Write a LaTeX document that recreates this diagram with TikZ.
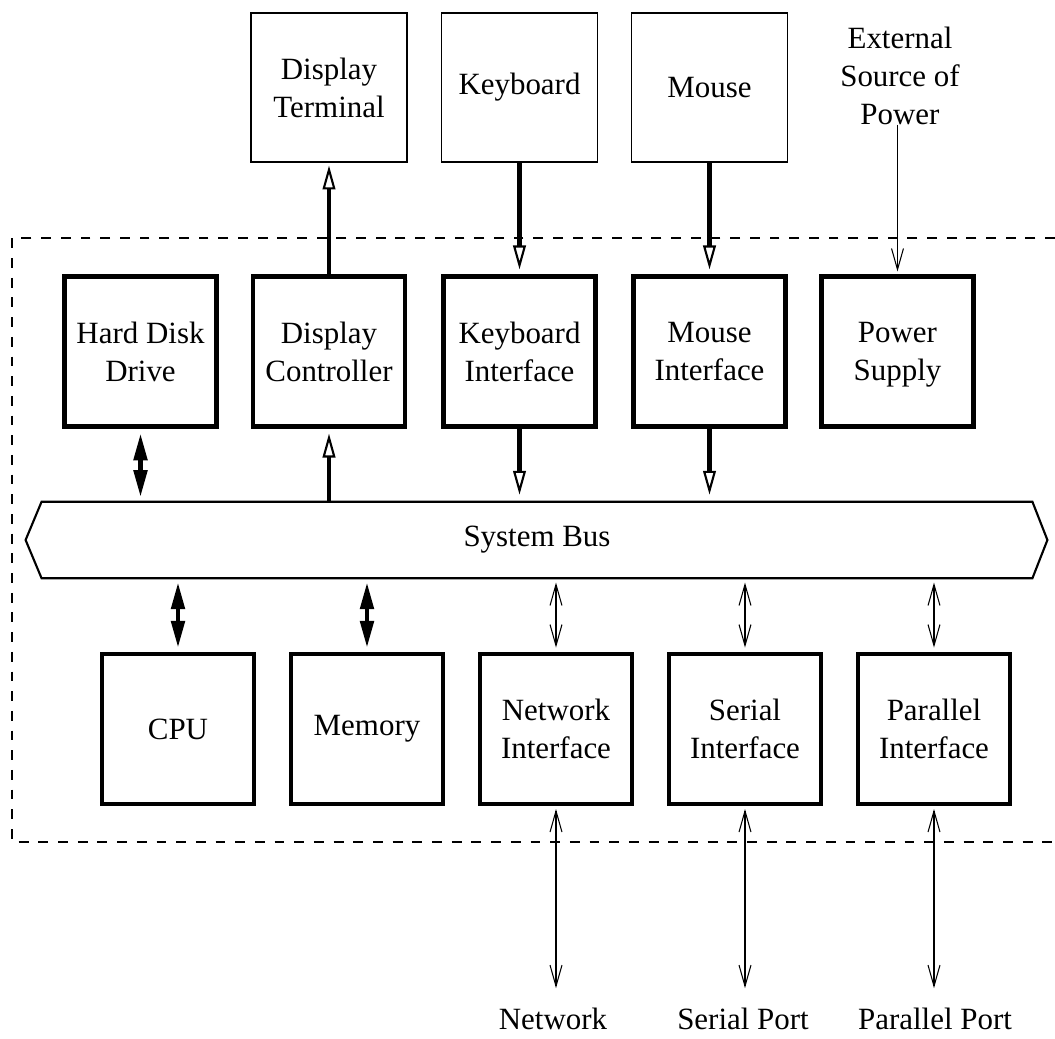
\documentclass[tikz,border=0pt]{standalone}
\usepackage{fontspec}
\setmainfont{Liberation Serif}
\usepackage{tikz}
\usetikzlibrary{arrows.meta,calc}
\tikzstyle{board}=[rectangle,draw,line width=3.1pt,minimum width=3.8cm,minimum height=3.75cm,align=center,inner sep=0pt]
\tikzstyle{device}=[rectangle,draw,line width=1.2pt,minimum width=3.9cm,minimum height=3.72cm,align=center,inner sep=0pt]
\tikzstyle{port}=[inner sep=0pt,align=center]
\tikzstyle{bigbus}=[line width=1.5pt,line join=miter]
\tikzstyle{frame}=[line width=1.4pt,dash pattern=on 7pt off 7pt]
\tikzstyle{wide} = [draw,line width=3pt,{Triangle[length=19pt,width=9.5pt]}-{Triangle[length=19pt,width=9.5pt]}]
\tikzstyle{oneway} = [draw,line width=3pt,-{Triangle[open,length=17pt,width=9pt,line width=1.5pt]}]
\tikzstyle{narrow} = [draw,line width=0.75pt,{Straight Barb[length=15pt,width=8.5pt]}-{Straight Barb[length=15pt,width=8.5pt]}]
\tikzstyle{feed} = [draw,line width=0.75pt,-{Straight Barb[length=15pt,width=8.5pt]}]
\begin{document}
\begin{tikzpicture}[x=0.025cm,y=-0.025cm,font=\fontsize{22}{27}\selectfont]
    \useasboundingbox (0,0) rectangle (1055,1039);
    % dashed outline of the system unit
    \draw[frame] (1055,238) -- (12,238) -- (12,842) -- (1055,842);
    % First the devices outside, then the cards
    \foreach \pos/\name/\txt in {{(329,87.5)/term/{Display\\Terminal}},
                                {(519.5,87.5)/kbd/Keyboard}, {(709.5,87.5)/mouse/Mouse}}
        \node[device] (\name) at \pos {\txt};
    \foreach \pos/\name/\txt in {{(140.5,351.5)/hdd/{Hard Disk\\Drive}}, {(329,351.5)/dispctl/{Display\\Controller}},
                                {(519.5,351.5)/kbdif/{Keyboard\\Interface}}, {(709.5,351.5)/mouseif/{Mouse\\Interface}},
                                {(897.5,351.5)/psu/{Power\\\smash{Supply}}}}
        \node[board] (\name) at \pos {\txt};
    \foreach \pos/\name/\txt in {{(178,729)/cpu/CPU}, {(367,729)/mem/Memory},
                                {(556,729)/netif/{Network\\Interface}}, {(745,729)/serif/{Serial\\Interface}},
                                {(934,729)/parif/{Parallel\\Interface}}}
        \node[board] (\name) at \pos {\txt};
    % the bus
    \node[minimum width=24.75cm,minimum height=1.9cm,inner sep=0pt] (bus) at (537,540) {System Bus};
    \draw[bigbus] (bus.north west) -- (bus.north east) -- ($(bus.east)+(15,0)$) -- (bus.south east)
        -- (bus.south west) -- ($(bus.west)+(-16,0)$) -- cycle;
    % outside labels
    \node[port] (power) at (900,75.5) {External\\Source of\\Power};
    \foreach \pos/\name/\txt in {{(553,1019)/net/Network}, {(743,1019)/serport/{Serial Port}},
                                {(935,1019)/parport/{Parallel Port}}}
        \node[port] (\name) at \pos {\txt};

    % Connect cards with the bus
    \path[wide,shorten <=3.5pt,shorten >=3.5pt] (hdd.south) -- (hdd.south |- bus.north);
    \path[oneway,shorten >=3.5pt] (dispctl.south |- bus.north) -- (dispctl.south);
    \foreach \card in {kbdif,mouseif}
        \path[oneway,shorten >=5pt] (\card.south) -- (\card.south |- bus.north);
    \foreach \card in {cpu,mem}
        \path[wide,shorten <=3pt,shorten >=3pt] (\card.north |- bus.south) -- (\card.north);
    \foreach \card in {netif,serif,parif}
        \path[narrow,shorten <=3pt,shorten >=3pt] (\card.north |- bus.south) -- (\card.north);

    % and the cards with the outside
    \path[oneway,shorten >=2pt] (dispctl.north) -- (term.south);
    \foreach \source/\dest in {kbd/kbdif, mouse/mouseif}
        \path[oneway,shorten >=3.5pt] (\source.south) -- (\dest.north);
    \path[feed,shorten >=2pt] (psu.north |- power.south) -- (psu.north);
    \foreach \card/\ext in {netif/net, serif/serport, parif/parport}
        \path[narrow,shorten <=2pt,shorten >=14pt] (\card.south) -- (\card.south |- \ext.north);
\end{tikzpicture}
\end{document}
